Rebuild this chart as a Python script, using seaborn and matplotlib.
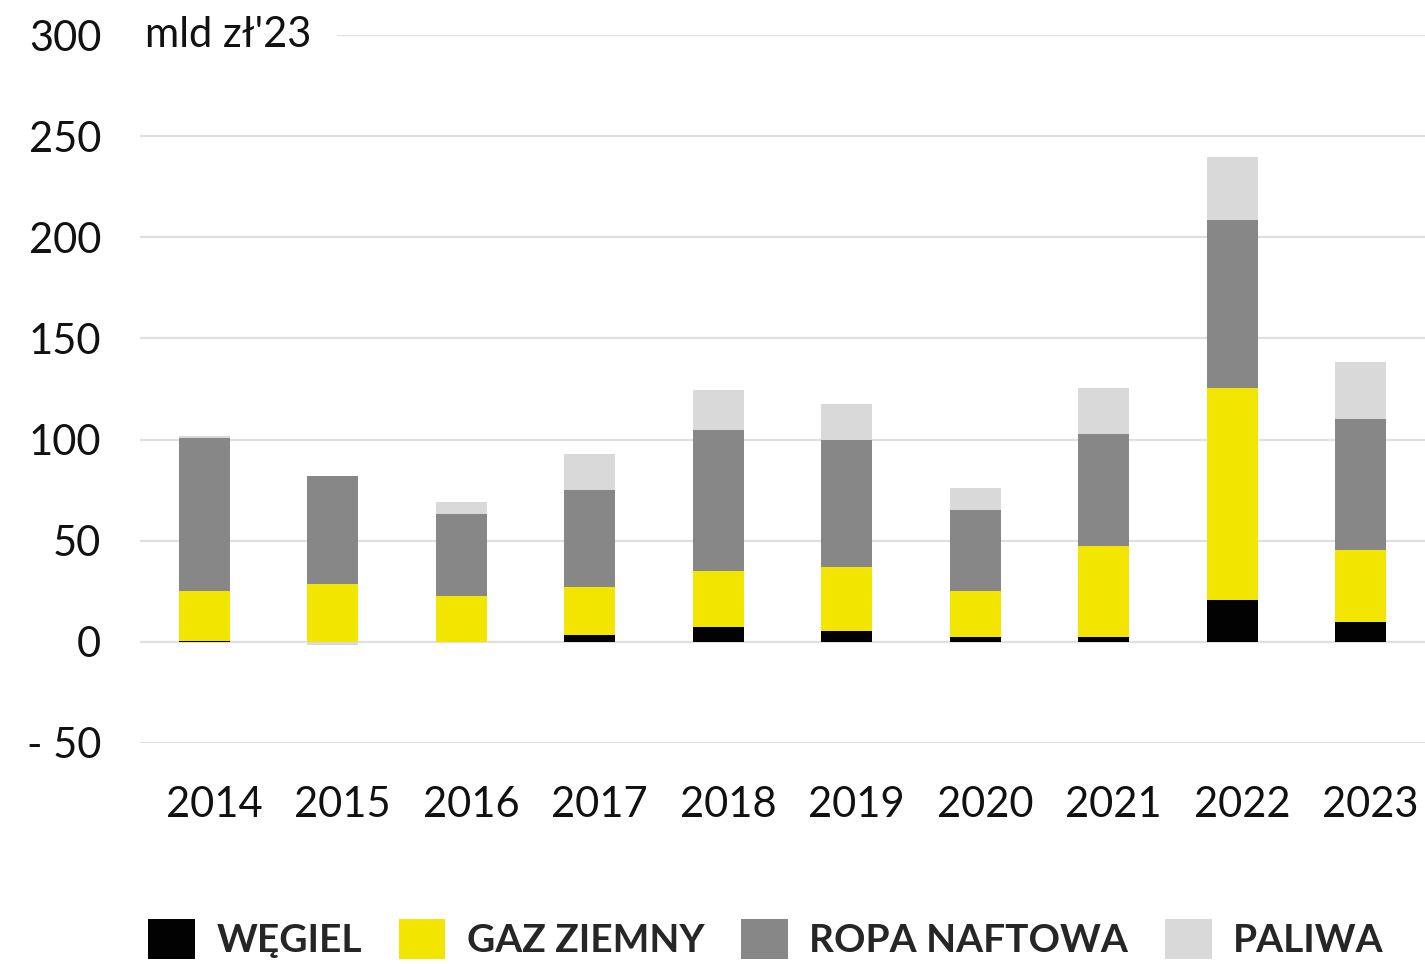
import numpy as np
import pandas as pd
import matplotlib
matplotlib.use("Agg")
import matplotlib.pyplot as plt
import matplotlib.transforms as mtransforms
from matplotlib.patches import Patch
import seaborn as sns

# Dane (mld zł'23)
years = ["2014", "2015", "2016", "2017", "2018", "2019", "2020", "2021", "2022", "2023"]
wegiel = [0.4, 0.0, 0.0, 3.3, 7.2, 5.3, 2.4, 2.3, 20.8, 10.0]
gaz_ziemny = [24.6, 28.7, 22.9, 23.6, 27.7, 31.6, 22.7, 45.2, 104.6, 35.5]
ropa_naftowa = [76.0, 53.3, 40.1, 48.2, 69.8, 63.1, 40.1, 55.3, 82.9, 64.9]
paliwa = [1.0, -1.5, 6.3, 17.8, 19.8, 17.6, 11.0, 22.6, 31.5, 27.9]

series_names = ["WĘGIEL", "GAZ ZIEMNY", "ROPA NAFTOWA", "PALIWA"]
series_values = [wegiel, gaz_ziemny, ropa_naftowa, paliwa]
colors = ["#020202", "#f2e600", "#878787", "#d9d9d9"]

y_ticks = [-50, 0, 50, 100, 150, 200, 250, 300]
y_tick_labels = ["- 50", "0", "50", "100", "150", "200", "250", "300"]
unit_label = "mld zł'23"

sns.set_theme(style="white")
plt.rcParams["font.family"] = ["Lato", "DejaVu Sans"]

fig = plt.figure(figsize=(14.25, 9.64), dpi=100)
ax = fig.add_axes([140 / 1425, 1 - 743 / 964, 1 - 140 / 1425, (743 - 35) / 964])

# Skumulowane słupki (osobno dla wartości dodatnich i ujemnych)
pos_base = np.zeros(len(years))
neg_base = np.zeros(len(years))
for name, vals, col in zip(series_names, series_values, colors):
    vals = np.array(vals)
    bottom = np.where(vals >= 0, pos_base, neg_base)
    df = pd.DataFrame({"rok": years, "wartosc": vals})
    sns.barplot(data=df, x="rok", y="wartosc", bottom=bottom, color=col,
                width=0.4, saturation=1, linewidth=0, ax=ax, zorder=3)
    pos_base += np.where(vals >= 0, vals, 0)
    neg_base += np.where(vals < 0, vals, 0)

ax.set_xlim(-0.5, len(years) - 0.5)
ax.set_ylim(-50, 300)
ax.set_yticks(y_ticks)
ax.set_yticklabels(y_tick_labels)
ax.set_xlabel("")
ax.set_ylabel("")
ax.grid(axis="y", color="#e0e0e0", linewidth=1.6, zorder=0)
ax.set_axisbelow(True)
for s in ax.spines.values():
    s.set_visible(False)

ax.tick_params(axis="y", length=0, pad=28, labelsize=30, labelcolor="#111111")
ax.tick_params(axis="x", length=0, pad=31, labelsize=30, labelcolor="#111111")

# lekkie przesunięcie etykiet lat w prawo
offset = mtransforms.ScaledTranslation(10 / 100, 0, fig.dpi_scale_trans)
for lbl in ax.get_xticklabels():
    lbl.set_transform(lbl.get_transform() + offset)

# jednostka przy górnej linii siatki
ax.text(-0.46, 300, unit_label, fontsize=30, color="#111111", va="center", ha="left",
        bbox=dict(facecolor="white", edgecolor="none", pad=18), zorder=4)

handles = [Patch(facecolor=c, edgecolor="none") for c in colors]
leg = fig.legend(handles, series_names, loc="center", bbox_to_anchor=(766 / 1425, 1 - 939 / 964),
                 ncol=4, frameon=False, handlelength=1.2, handleheight=1.2,
                 handletextpad=0.55, columnspacing=0.95, borderpad=0,
                 prop={"size": 28, "weight": "bold"})

fig.savefig("out.png", dpi=100, facecolor="white")
